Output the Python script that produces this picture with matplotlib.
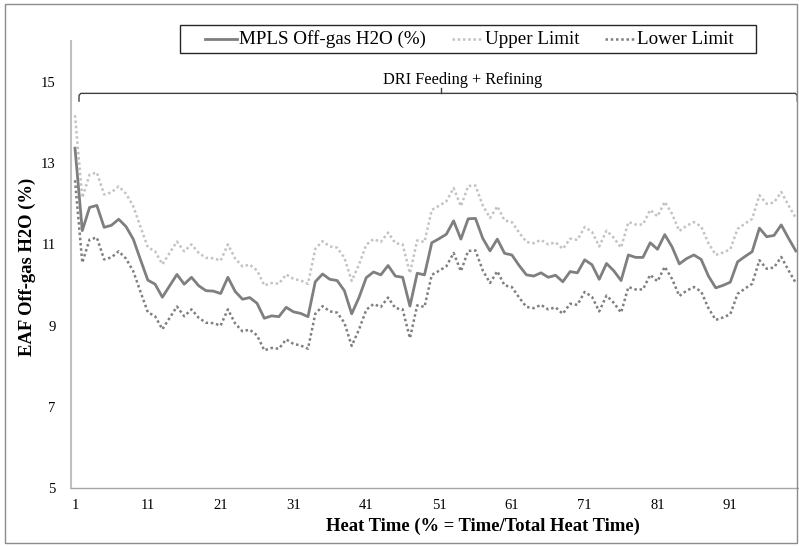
import matplotlib
matplotlib.use("Agg")
import matplotlib.pyplot as plt
from matplotlib.lines import Line2D
from matplotlib.patches import Rectangle

# Heat time in percent of total heat time
heat_time = list(range(1, 101))

# Measured off-gas H2O (%) along the heat
h2o = [13.37, 11.34, 11.91, 11.96, 11.42, 11.47, 11.62, 11.44, 11.13, 10.62,
       10.12, 10.02, 9.70, 9.98, 10.26, 10.02, 10.19, 9.98, 9.86, 9.85,
       9.79, 10.19, 9.84, 9.65, 9.69, 9.55, 9.18, 9.24, 9.22, 9.45,
       9.34, 9.30, 9.22, 10.08, 10.27, 10.14, 10.11, 9.86, 9.29, 9.69,
       10.18, 10.32, 10.25, 10.48, 10.22, 10.19, 9.48, 10.29, 10.25, 11.04,
       11.14, 11.25, 11.58, 11.13, 11.63, 11.64, 11.15, 10.84, 11.13, 10.78,
       10.74, 10.48, 10.25, 10.22, 10.30, 10.19, 10.24, 10.08, 10.33, 10.30,
       10.62, 10.50, 10.14, 10.53, 10.35, 10.11, 10.74, 10.68, 10.68, 11.04,
       10.88, 11.24, 10.94, 10.52, 10.65, 10.74, 10.63, 10.22, 9.93, 9.99,
       10.07, 10.57, 10.70, 10.82, 11.40, 11.19, 11.22, 11.48, 11.15, 10.84]

upper = [14.18, 12.15, 12.72, 12.77, 12.23, 12.28, 12.43, 12.25, 11.94, 11.43,
         10.93, 10.83, 10.51, 10.79, 11.07, 10.83, 11.00, 10.79, 10.67, 10.66,
         10.60, 11.00, 10.65, 10.46, 10.50, 10.36, 9.99, 10.05, 10.03, 10.26,
         10.15, 10.11, 10.03, 10.89, 11.08, 10.95, 10.92, 10.67, 10.10, 10.50,
         10.99, 11.13, 11.06, 11.29, 11.03, 11.00, 10.29, 11.10, 11.06, 11.85,
         11.95, 12.06, 12.39, 11.94, 12.44, 12.45, 11.96, 11.65, 11.94, 11.59,
         11.55, 11.29, 11.06, 11.03, 11.11, 11.00, 11.05, 10.89, 11.14, 11.11,
         11.43, 11.31, 10.95, 11.34, 11.16, 10.92, 11.55, 11.49, 11.49, 11.85,
         11.69, 12.05, 11.75, 11.33, 11.46, 11.55, 11.44, 11.03, 10.74, 10.80,
         10.88, 11.38, 11.51, 11.63, 12.21, 12.00, 12.03, 12.29, 11.96, 11.65]

lower = [12.58, 10.55, 11.12, 11.17, 10.63, 10.68, 10.83, 10.65, 10.34, 9.83,
         9.33, 9.23, 8.91, 9.19, 9.47, 9.23, 9.40, 9.19, 9.07, 9.06,
         9.00, 9.40, 9.05, 8.86, 8.90, 8.76, 8.39, 8.45, 8.43, 8.66,
         8.55, 8.51, 8.43, 9.29, 9.48, 9.35, 9.32, 9.07, 8.50, 8.90,
         9.39, 9.53, 9.46, 9.69, 9.43, 9.40, 8.69, 9.50, 9.46, 10.25,
         10.35, 10.46, 10.79, 10.34, 10.84, 10.85, 10.36, 10.05, 10.34, 9.99,
         9.95, 9.69, 9.46, 9.43, 9.51, 9.40, 9.45, 9.29, 9.54, 9.51,
         9.83, 9.71, 9.35, 9.74, 9.56, 9.32, 9.95, 9.89, 9.89, 10.25,
         10.09, 10.45, 10.15, 9.73, 9.86, 9.95, 9.84, 9.43, 9.14, 9.20,
         9.28, 9.78, 9.91, 10.03, 10.61, 10.40, 10.43, 10.69, 10.36, 10.05]

x_ticks = [1, 11, 21, 31, 41, 51, 61, 71, 81, 91]
y_ticks = [5, 7, 9, 11, 13, 15]

series_names = ["MPLS Off-gas H2O (%)", "Upper Limit", "Lower Limit"]
phase_label = "DRI Feeding + Refining"
phase_span = (1.55, 100.2)
phase_mid = 51.3

SERIF = "Liberation Serif"
W, H = 799, 546
fig = plt.figure(figsize=(W / 100, H / 100), dpi=100)


def fx(px):
    return px / W


def fy(py):
    return 1 - py / H


# plot area in pixel terms
ax_l, ax_r, ax_t, ax_b = 71, 798, 41.4, 488
ax = fig.add_axes([fx(ax_l), fy(ax_b), fx(ax_r) - fx(ax_l), (ax_b - ax_t) / H])

main_style = dict(color="#7f7f7f", lw=2.0, solid_joinstyle="round")
upper_style = dict(color="#c3c3c3", lw=1.8, linestyle=(0, (1, 1.1)))
lower_style = dict(color="#7f7f7f", lw=1.8, linestyle=(0, (1, 1.1)))

ax.plot(heat_time, upper, **upper_style)
ax.plot(heat_time, lower, **lower_style)
ax.plot(heat_time, h2o, **main_style)

ax.set_xlim(0.45, 100.3)
ax.set_ylim(5, 16)
ax.set_xticks(x_ticks)
ax.set_yticks(y_ticks)
ax.tick_params(length=0, labelsize=10.5)
ax.tick_params(axis="y", pad=11)
ax.tick_params(axis="x", pad=8)
for lab in ax.get_xticklabels() + ax.get_yticklabels():
    lab.set_fontfamily(SERIF)

for side in ("top", "right"):
    ax.spines[side].set_visible(False)
ax.spines["left"].set_color("#c0c0c0")
ax.spines["left"].set_linewidth(1.5)
ax.spines["bottom"].set_color("#a6a6a6")
ax.spines["bottom"].set_linewidth(1.0)

# phase bracket across the heat
by, bdrop, bup = 14.72, 14.53, 14.86
x0, x1 = phase_span
ax.plot([x0, x0, x0 + 0.25, x1 - 0.25, x1, x1],
        [bdrop, by - 0.05, by, by, by - 0.05, bdrop],
        color="#404040", lw=1.0, clip_on=False, solid_joinstyle="round")
ax.plot([phase_mid, phase_mid], [by, bup], color="#404040", lw=1.0)
ax.text(54.2, 15.06, phase_label, ha="center", va="center",
        fontsize=11.7, family=SERIF, color="black")

# axis titles
fig.text(fx(482.5), fy(526), "Heat Time (% = Time/Total Heat Time)",
         ha="center", va="center", fontsize=13.4, fontweight="bold", family=SERIF)
fig.text(fx(27), fy(267), "EAF Off-gas H2O (%)", rotation=90,
         ha="center", va="center", fontsize=13.4, fontweight="bold", family=SERIF)

# legend box
fig.patches.append(Rectangle((fx(180), fy(52.5)), fx(756) - fx(180), (52.5 - 25) / H,
                             transform=fig.transFigure, fill=False,
                             edgecolor="#262626", lw=1.0))
leg_y = 38.5
entries = [(205, 237, main_style, series_names[0]),
           (452, 483, upper_style, series_names[1]),
           (605, 635, lower_style, series_names[2])]
for hx0, hx1, style, name in entries:
    fig.add_artist(Line2D([fx(hx0), fx(hx1)], [fy(leg_y), fy(leg_y)],
                          transform=fig.transFigure, **style))
    fig.text(fx(hx1 + 2), fy(leg_y + 0.5), name, ha="left", va="center",
             fontsize=13.7, family=SERIF)

# outer frame
fig.patches.append(Rectangle((fx(5), fy(543)), fx(797) - fx(5), (543 - 4) / H,
                             transform=fig.transFigure, fill=False,
                             edgecolor="#8c8c8c", lw=1.0))

fig.savefig("out.png", dpi=100)
